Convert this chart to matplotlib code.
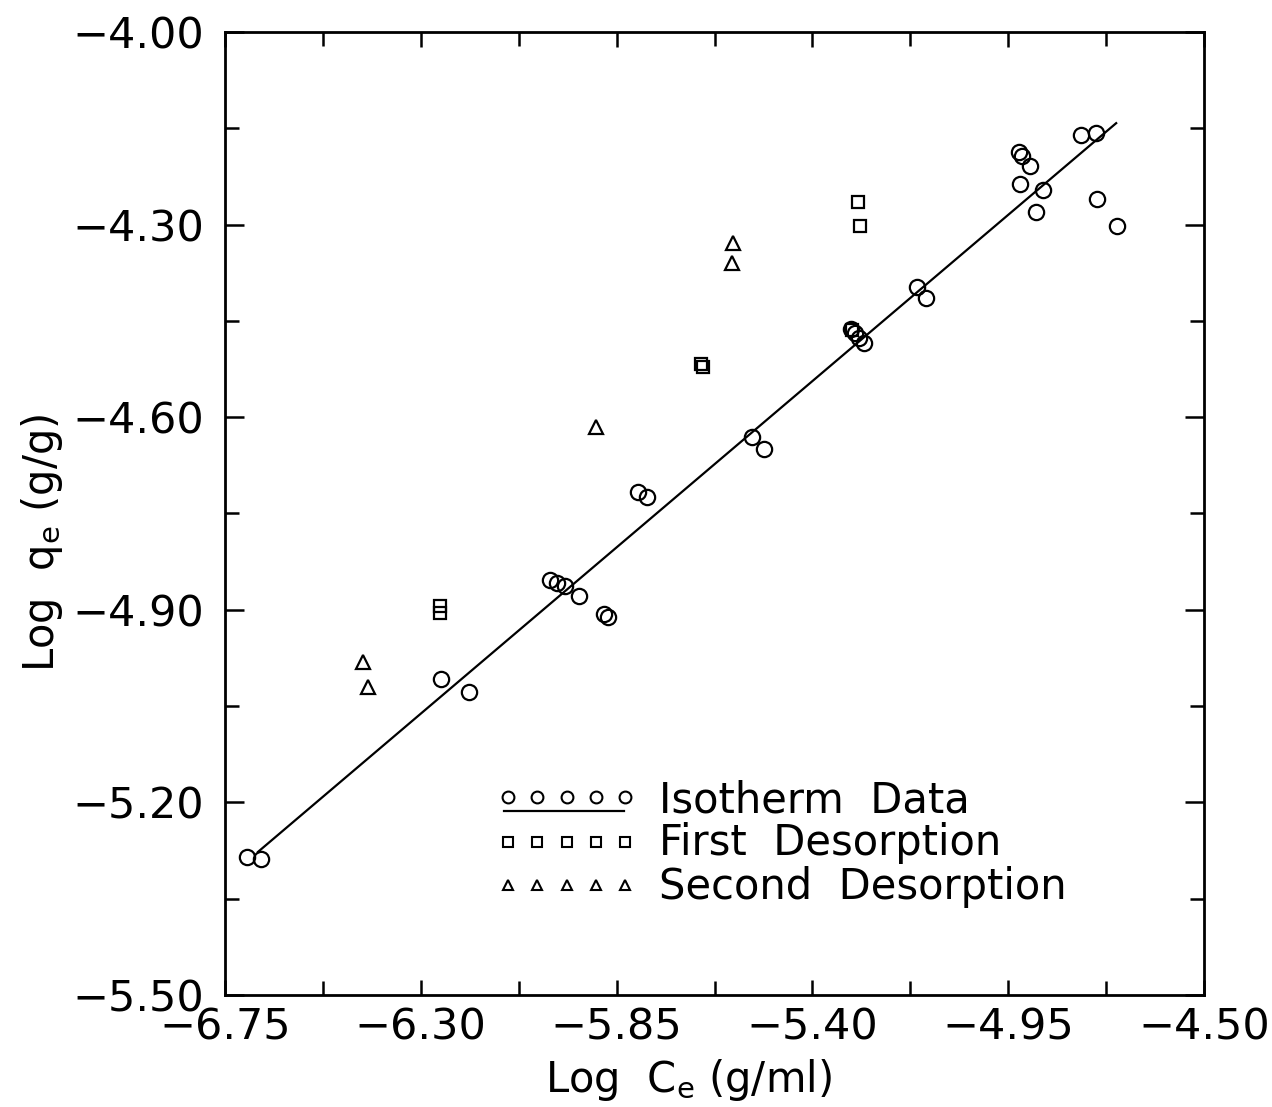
import matplotlib
matplotlib.use("Agg")
import matplotlib.pyplot as plt
from matplotlib.ticker import AutoMinorLocator, FuncFormatter

# ---- data ----
iso_x = [-6.699, -6.667, -6.253, -6.189, -6.003, -5.987, -5.968, -5.936,
         -5.879, -5.870, -5.801, -5.780, -5.539, -5.511, -5.311, -5.302,
         -5.293, -5.281, -5.159, -5.139, -4.925, -4.918, -4.899, -4.922,
         -4.870, -4.886, -4.782, -4.748, -4.745, -4.699]
iso_y = [-5.285, -5.288, -5.008, -5.028, -4.854, -4.858, -4.863, -4.879,
         -4.907, -4.911, -4.717, -4.724, -4.631, -4.650, -4.463, -4.469,
         -4.477, -4.484, -4.397, -4.414, -4.187, -4.193, -4.209, -4.237,
         -4.246, -4.280, -4.160, -4.157, -4.260, -4.302]

des1_x = [-6.256, -6.256, -5.655, -5.651, -5.295, -5.290, -5.309]
des1_y = [-4.894, -4.905, -4.517, -4.522, -4.265, -4.302, -4.464]

des2_x = [-6.433, -6.421, -5.897, -5.582, -5.584]
des2_y = [-4.981, -5.020, -4.615, -4.329, -4.360]

fit_x = [-6.674, -4.702]
fit_y = [-5.277, -4.142]

x_ticks = [-6.75, -6.30, -5.85, -5.40, -4.95, -4.50]
y_ticks = [-5.50, -5.20, -4.90, -4.60, -4.30, -4.00]

legend_labels = ["Isotherm  Data", "First  Desorption", "Second  Desorption"]

plt.rcParams["font.family"] = ["DejaVu Sans"]

fig = plt.figure(figsize=(12.72, 11.07), dpi=100)
ax = fig.add_axes([0.1769, 0.1012, 0.7697, 0.8699])

mk = dict(linestyle="none", markerfacecolor="none", markeredgecolor="black",
          markeredgewidth=1.6)
ax.plot(fit_x, fit_y, color="black", linewidth=1.6)
ax.plot(iso_x, iso_y, marker="o", markersize=11, **mk)
ax.plot(des1_x, des1_y, marker="s", markersize=9, **mk)
ax.plot(des2_x, des2_y, marker="^", markersize=9.5, **mk)

ax.set_xlim(-6.75, -4.50)
ax.set_ylim(-5.50, -4.00)
ax.set_xticks(x_ticks)
ax.set_yticks(y_ticks)
ax.xaxis.set_minor_locator(AutoMinorLocator(2))
ax.yaxis.set_minor_locator(AutoMinorLocator(2))
fmt = FuncFormatter(lambda v, pos: f"{v:.2f}".replace("-", "\u2212"))
ax.xaxis.set_major_formatter(fmt)
ax.yaxis.set_major_formatter(fmt)

for s in ax.spines.values():
    s.set_linewidth(2.0)
ax.tick_params(which="both", direction="in", top=True, right=True, width=1.8,
               labelsize=31)
ax.tick_params(axis="x", which="major", length=11, pad=8)
ax.tick_params(axis="y", which="major", length=14, pad=15)
ax.tick_params(which="minor", length=10)

ax.set_xlabel(r"Log  C$_\mathregular{e}$ (g/ml)", fontsize=30)
ax.set_ylabel(r"Log  q$_\mathregular{e}$ (g/g)", fontsize=30)
ax.xaxis.set_label_coords(0.473, -0.064)
ax.yaxis.set_label_coords(-0.163, 0.47)

# ---- hand-drawn style legend: five markers per row ----
leg_markers = ["o", "s", "^"]
leg_sizes = [8.5, 7, 7.5]
row_y = [0.2056, 0.1589, 0.1142]
base_y = [0.190, 0.1454, 0.0997]
mx = [0.289 + 0.0299 * i for i in range(5)]
for m, ms, ry, by, lab in zip(leg_markers, leg_sizes, row_y, base_y, legend_labels):
    ax.plot(mx, [ry] * 5, marker=m, markersize=ms, transform=ax.transAxes,
            clip_on=False, linestyle="none", markerfacecolor="none",
            markeredgecolor="black", markeredgewidth=1.5)
    ax.text(0.443, by, lab, transform=ax.transAxes, fontsize=30,
            ha="left", va="baseline")
ax.plot([0.285, 0.408], [0.191, 0.191], color="black", linewidth=1.6,
        transform=ax.transAxes)

fig.savefig("out.png", dpi=100)
